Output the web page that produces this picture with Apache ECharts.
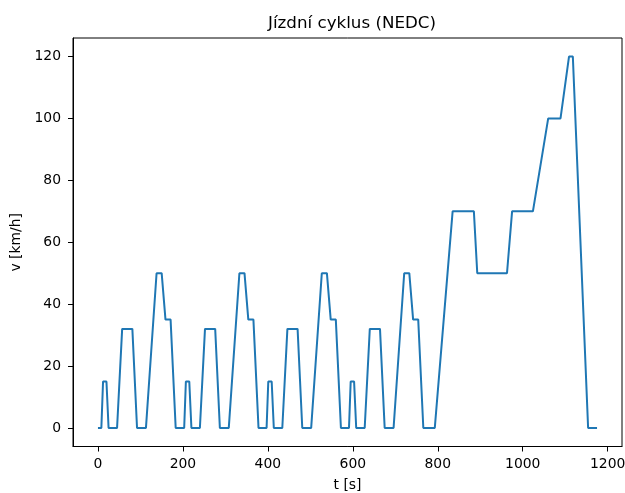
<!DOCTYPE html>
<html><head><meta charset="utf-8">
<script src="https://cdn.jsdelivr.net/npm/echarts@6/dist/echarts.min.js"></script>
<style>html,body{margin:0;padding:0;background:#fff}#c{width:625px;height:493px}</style>
</head><body><div id="c"></div>
<script>
// Time [s] and speed [km/h]
var ece1T = [0,8,12,20,25,45,57,81,92,113,138,150,159,171,183];
var ece1V = [0,0,15,15,0,0,32,32,0,0,50,50,35,35,0];
var ece2T = [203,207,215,220,240,252,276,287,308,333,345,354,366,378];
var ece2V = [0,15,15,0,0,32,32,0,0,50,50,35,35,0];
var ece3T = [397,401,409,414,434,446,470,481,502,527,539,548,560,572];
var ece3V = [0,15,15,0,0,32,32,0,0,50,50,35,35,0];
var ece4T = [591,595,603,608,628,640,664,675,696,721,733,742,754,766];
var ece4V = [0,15,15,0,0,32,32,0,0,50,50,35,35,0];
var eudcT = [793,835,885,893,963,975,1024,1060,1089,1109,1118,1154,1175];
var eudcV = [0,70,70,50,50,70,70,100,100,120,120,0,0];
var xTicks = [0,200,400,600,800,1000,1200];
var yTicks = [0,20,40,60,80,100,120];

var times = ece1T.concat(ece2T, ece3T, ece4T, eudcT);
var speeds = ece1V.concat(ece2V, ece3V, ece4V, eudcV);
var data = times.map(function(t,i){return [t, speeds[i]];});

var tMin = Math.min.apply(null,times), tMax = Math.max.apply(null,times);
var vMin = Math.min.apply(null,speeds), vMax = Math.max.apply(null,speeds);
var xm = (tMax-tMin)*0.05, ym = (vMax-vMin)*0.05;

var font = 'DejaVu Sans';
var chart = echarts.init(document.getElementById('c'), null, {renderer:'canvas'});
chart.setOption({
  animation:false,
  backgroundColor:'#fff',
  title:{text:'Jízdní cyklus (NEDC)', left:347, top:10, textAlign:'center',
    textStyle:{fontFamily:font, fontSize:16.7, fontWeight:'normal', color:'#000'}},
  grid:{left:73, right:3, top:38, bottom:46.5, outerBoundsMode:'none', containLabel:false,
    show:true, borderColor:'#000', borderWidth:1, backgroundColor:'transparent'},
  xAxis:{type:'value', min:tMin-xm, max:tMax+xm,
    name:'t [s]', nameLocation:'middle', nameGap:32,
    nameTextStyle:{fontFamily:font, fontSize:13.9, color:'#000'},
    axisLine:{show:true, onZero:false, lineStyle:{color:'#000', width:1}},
    axisTick:{show:true, inside:false, length:5, customValues:xTicks, lineStyle:{color:'#000', width:1}},
    axisLabel:{customValues:xTicks, margin:11, fontFamily:font, fontSize:13.9, color:'#000',
      formatter:function(v){return String(v);}},
    splitLine:{show:false}},
  yAxis:{type:'value', min:vMin-ym, max:vMax+ym,
    name:'v [km/h]', nameLocation:'middle', nameGap:49, nameRotate:90,
    nameTextStyle:{fontFamily:font, fontSize:13.9, color:'#000'},
    axisLine:{show:true, onZero:false, lineStyle:{color:'#000', width:1}},
    axisTick:{show:true, inside:false, length:5, customValues:yTicks, lineStyle:{color:'#000', width:1}},
    axisLabel:{customValues:yTicks, margin:12, fontFamily:font, fontSize:13.9, color:'#000',
      formatter:function(v){return String(v);}},
    splitLine:{show:false}},
  series:[{type:'line', data:data, showSymbol:false, symbol:'none',
    lineStyle:{color:'#1f77b4', width:2}, clip:true}]
});
</script></body></html>
